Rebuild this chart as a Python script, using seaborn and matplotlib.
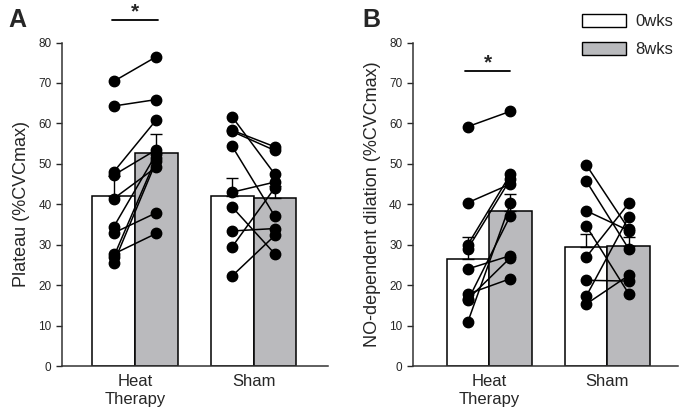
import numpy as np
import pandas as pd
import seaborn as sns
import matplotlib
matplotlib.use('Agg')
import matplotlib.pyplot as plt
from matplotlib.patches import Patch

groups = ['Heat\nTherapy', 'Sham']
weeks = ['0wks', '8wks']
colors = ['white', '#b9babd']

# panel A - plateau (%CVCmax), bar means and SEM
a_means = [42.0, 52.7, 42.1, 41.6]
a_sem = [5.0, 4.7, 4.5, 3.0]
a_ht_pre = [70.4, 64.3, 48.0, 47.2, 41.4, 34.4, 32.9, 27.7, 27.0, 25.5]
a_ht_post = [76.5, 65.9, 60.9, 53.5, 49.2, 52.5, 37.9, 32.8, 51.5, 50.7]
a_sh_pre = [61.6, 58.3, 58.0, 54.3, 43.0, 39.3, 33.4, 29.5, 22.3]
a_sh_post = [47.4, 54.2, 53.3, 37.0, 45.5, 27.7, 34.0, 44.1, 32.3]

# panel B - NO-dependent dilation (%CVCmax)
b_means = [26.5, 38.4, 29.4, 29.7]
b_sem = [5.5, 4.1, 3.3, 2.2]
b_ht_pre = [59.2, 40.4, 30.0, 29.0, 24.0, 17.8, 16.2, 16.5, 10.9]
b_ht_post = [63.0, 45.0, 47.4, 46.2, 27.3, 21.6, 37.2, 26.8, 40.2]
b_sh_pre = [49.8, 45.8, 38.4, 34.7, 26.9, 21.2, 17.2, 15.3]
b_sh_post = [33.9, 29.0, 33.5, 17.9, 40.2, 21.0, 36.8, 22.4]

sns.set_style('ticks')
plt.rcParams['font.family'] = ['Liberation Sans', 'DejaVu Sans']

fig = plt.figure(figsize=(6.79, 4.13), dpi=100)
axA = fig.add_axes([0.0913, 0.1138, 0.392, 0.7832])
axB = fig.add_axes([0.608, 0.1138, 0.391, 0.7832])

off = 0.18


def panel(ax, means, sem, pairs, ylabel, xlim):
    df = pd.DataFrame({'group': np.repeat(groups, 2),
                       'week': weeks * 2,
                       'value': means})
    sns.barplot(data=df, x='group', y='value', hue='week', palette=colors,
                width=0.72, edgecolor='black', linewidth=1.1,
                errorbar=None, legend=False, ax=ax, zorder=1)
    xs = [-off, off, 1 - off, 1 + off]
    for x, m, s in zip(xs, means, sem):
        ax.errorbar(x, m, yerr=[[0], [s]], color='black', lw=1.0,
                    capsize=4, capthick=1.0, zorder=2)
    for gi, (pre, post) in enumerate(pairs):
        for p0, p1 in zip(pre, post):
            ax.plot([gi - off, gi + off], [p0, p1], color='black', lw=1.1,
                    zorder=3)
        ax.plot([gi - off] * len(pre), pre, 'o', color='black', ms=7.5,
                zorder=4)
        ax.plot([gi + off] * len(post), post, 'o', color='black', ms=7.5,
                zorder=4)
    ax.set_ylim(0, 80)
    ax.set_xlim(*xlim)
    ax.set_yticks(range(0, 81, 10))
    ax.tick_params(axis='y', labelsize=8.5, length=4, width=1, direction='out')
    ax.tick_params(axis='x', labelsize=12, length=0, pad=6)
    ax.set_xlabel('')
    ax.set_ylabel(ylabel, fontsize=13, labelpad=6)
    sns.despine(ax=ax)
    for sp in ['left', 'bottom']:
        ax.spines[sp].set_linewidth(1.1)
        ax.spines[sp].set_color('#333333')


panel(axA, a_means, a_sem, [(a_ht_pre, a_ht_post), (a_sh_pre, a_sh_post)],
      'Plateau (%CVCmax)', (-0.616, 1.629))
panel(axB, b_means, b_sem, [(b_ht_pre, b_ht_post), (b_sh_pre, b_sh_post)],
      'NO-dependent dilation (%CVCmax)', (-0.645, 1.6))

# significance markers
axA.plot([-0.19, 0.19], [85.6, 85.6], color='black', lw=1.3, clip_on=False)
axA.text(0, 86.1, '*', ha='center', va='baseline', fontsize=15, fontweight='bold')
axB.plot([-0.2, 0.18], [72.9, 72.9], color='black', lw=1.3, clip_on=False)
axB.text(-0.01, 73.5, '*', ha='center', va='baseline', fontsize=15, fontweight='bold')

fig.text(0.012, 0.98, 'A', fontsize=18, fontweight='bold', va='top')
fig.text(0.533, 0.98, 'B', fontsize=18, fontweight='bold', va='top')

handles = [Patch(facecolor=c, edgecolor='black', linewidth=1) for c in colors]
axB.legend(handles, weeks, loc='upper left', bbox_to_anchor=(0.843, 0.99),
           bbox_transform=fig.transFigure, frameon=False, fontsize=12,
           handlelength=2.6, handleheight=0.8, handletextpad=0.6,
           labelspacing=0.75, borderaxespad=0.2)

fig.savefig('out.png', dpi=100)
